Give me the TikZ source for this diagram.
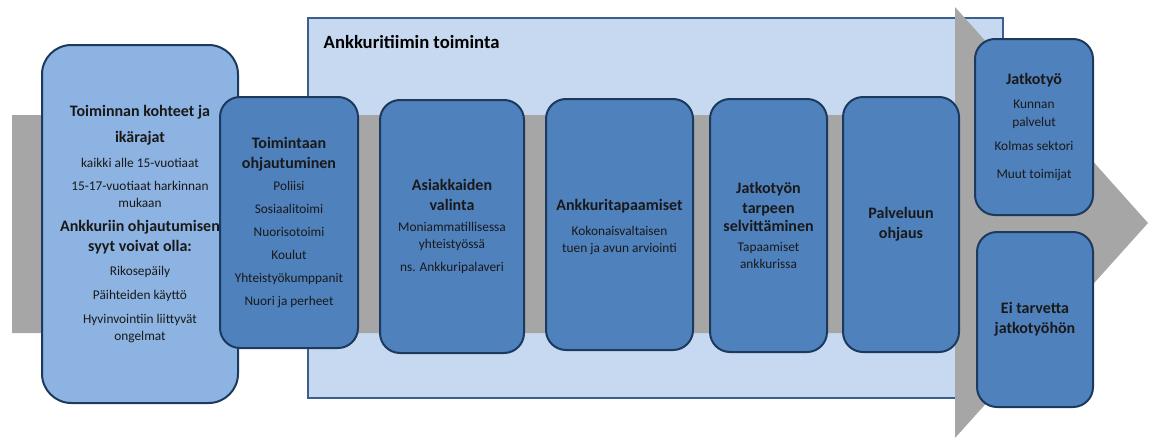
\documentclass[tikz,border=0pt]{standalone}
\usepackage{fontspec}
\setmainfont{Carlito}
\definecolor{ArrowGray}{HTML}{A6A6A6}
\definecolor{FrameFill}{HTML}{C6D9F1}
\definecolor{FrameLine}{HTML}{3A5F8E}
\definecolor{BoxLine}{HTML}{1C3A5E}
\definecolor{BoxFill}{HTML}{4F81BD}
\definecolor{BoxLight}{HTML}{8DB3E2}

\tikzset{
  stagebox/.style 2 args={draw=BoxLine, fill=BoxFill, line width=1.5pt,
    rounded corners=15pt, align=center, inner sep=2pt, text=black!90,
    minimum width=#1*0.75pt, minimum height=#2*0.75pt,
    font=\fontsize{10}{12.75}\selectfont}
}
\newcommand{\hd}[1]{{\fontsize{12}{14.5}\selectfont\bfseries #1}}

\begin{document}
\begin{tikzpicture}[x=0.75pt, y=-0.75pt]
        \useasboundingbox (0,0) rectangle (1155,439);
        % frame of the team's work
        \draw[FrameLine, fill=FrameFill, line width=1.5pt] (308,18) rectangle (1003,398);
        \node[anchor=west, font=\fontsize{14}{16}\selectfont\bfseries] (title) at (319,42) {Ankkuritiimin toiminta};
        % the big arrow
        \fill[ArrowGray] (12,115) -- (955,115) -- (955,7) -- (1148,223)
            -- (955,438) -- (955,333) -- (12,333) -- cycle;
        % stages
        \node[stagebox={196}{358}, fill=BoxLight, rounded corners=22pt] (kohteet) at (140,224)
            {\hd{Toiminnan kohteet ja}\\[6.5pt] \hd{ikärajat}\\[6pt]
             kaikki alle 15-vuotiaat\\[4.5pt]
             15-17-vuotiaat harkinnan\\ mukaan\\[5.5pt]
             \hd{Ankkuriin ohjautumisen}\\[2pt] \hd{syyt voivat olla:}\\[5.5pt]
             Rikosepäily\\[5pt] Päihteiden käyttö\\[5pt]
             Hyvinvointiin liittyvät\\ ongelmat};
        \node[stagebox={138}{251}] (ohjautuminen) at (289,222.5)
            {\hd{Toimintaan}\\[2pt] \hd{ohjautuminen}\\[4pt]
             Poliisi\\[4.5pt] Sosiaalitoimi\\[4.5pt] Nuorisotoimi\\[4.5pt]
             Koulut\\[4.5pt] Yhteistyökumppanit\\[4.5pt] Nuori ja perheet};
        \node[stagebox={144}{253}] (valinta) at (452,226.5)
            {\hd{Asiakkaiden}\\[2pt] \hd{valinta}\\[3pt]
             Moniammatillisessa\\ yhteistyössä\\[5pt] ns. Ankkuripalaveri};
        \node[stagebox={147}{251}] (tapaamiset) at (619.5,224.5)
            {\mbox{}\\ \hd{Ankkuritapaamiset}\\[6pt] Kokonaisvaltaisen\\ tuen ja avun arviointi};
        \node[stagebox={117}{253}] (selvitys) at (768.5,225.5)
            {\hd{Jatkotyön}\\[2pt] \hd{tarpeen}\\[1pt] \hd{selvittäminen}\\[2pt] Tapaamiset\\ ankkurissa};
        \node[stagebox={116}{255}] (ohjaus) at (901,224.5)
            {\hd{Palveluun}\\[2pt] \hd{ohjaus}};
        \node[stagebox={118}{176}] (jatkotyo) at (1034,127)
            {\hd{Jatkotyö}\\[5pt] Kunnan\\[1pt] palvelut\\[5pt] Kolmas sektori\\[8pt] Muut toimijat};
        \node[stagebox={116}{175}] (eitarvetta) at (1035,319.5)
            {\hd{Ei tarvetta}\\[2pt] \hd{jatkotyöhön}};
    \end{tikzpicture}
\end{document}
